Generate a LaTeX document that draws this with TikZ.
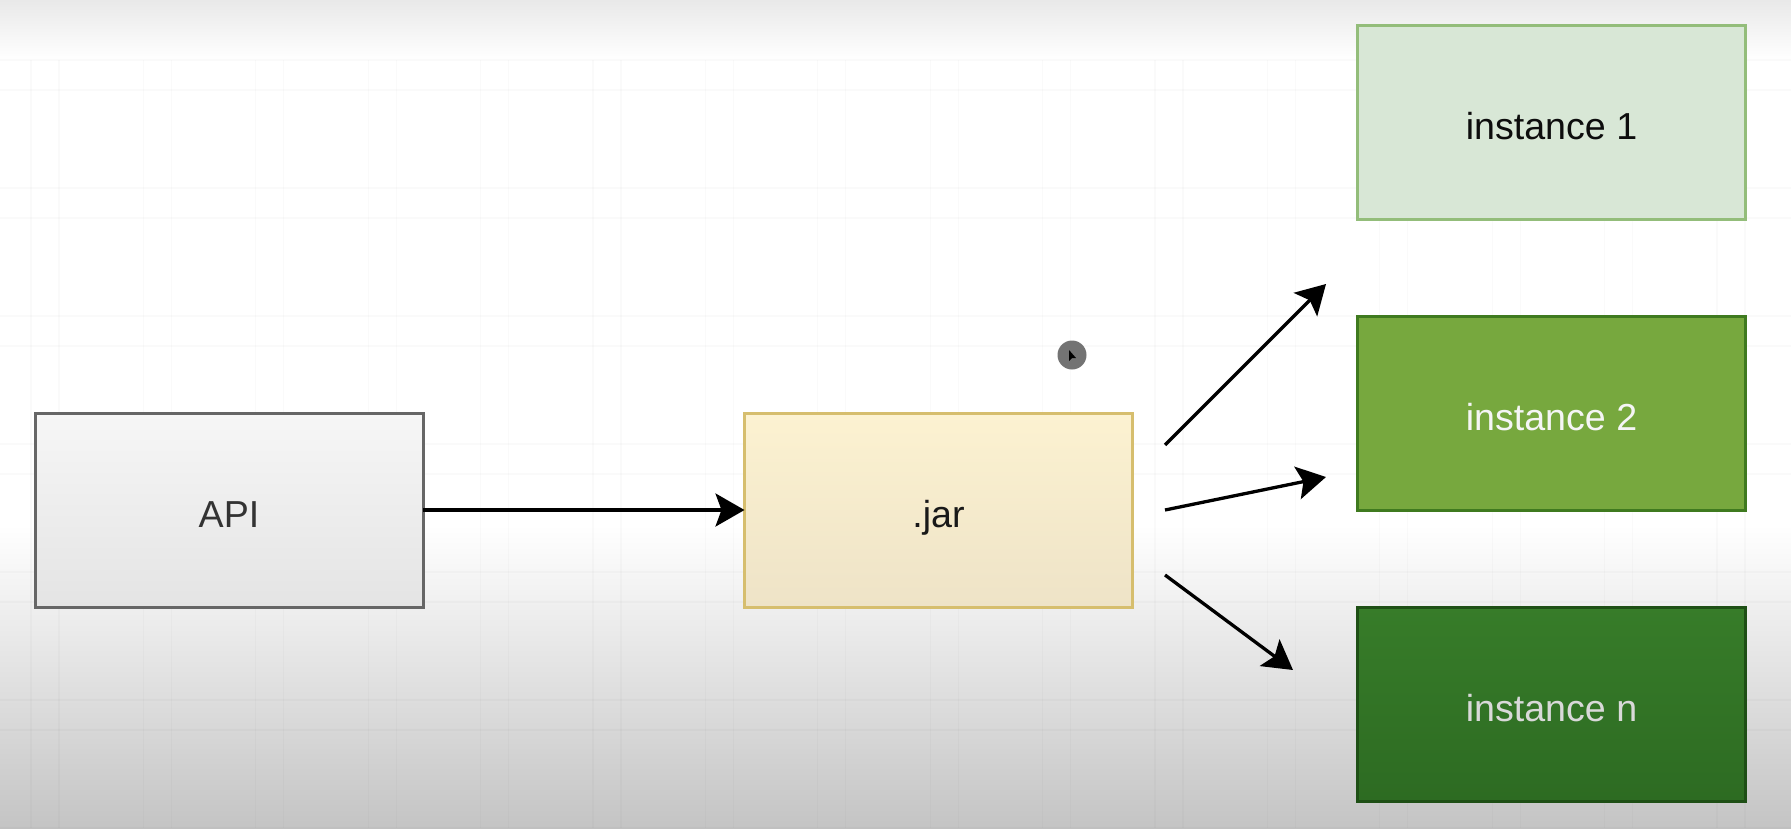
\documentclass[tikz,border=0pt]{standalone}
\usepackage{fontspec}
\setmainfont{Liberation Sans}
\usetikzlibrary{arrows.meta,shadings}
\definecolor{apiS}{HTML}{666666}
\definecolor{apiT}{HTML}{F6F6F6}
\definecolor{apiB}{HTML}{E4E4E4}
\definecolor{jarS}{HTML}{D6BE6E}
\definecolor{jarT}{HTML}{FCF2D1}
\definecolor{jarB}{HTML}{EEE3C7}
\definecolor{i1F}{HTML}{D8E7D6}
\definecolor{i1S}{HTML}{93BD7A}
\definecolor{i2F}{HTML}{77A83E}
\definecolor{i2S}{HTML}{3F7A1F}
\definecolor{inT}{HTML}{377C29}
\definecolor{inB}{HTML}{2D6B22}
\definecolor{inS}{HTML}{1E4F15}
\definecolor{bgB}{HTML}{C4C4C4}
\definecolor{bgT}{HTML}{E9E9E9}
\tikzset{
  boxnode/.style={rectangle, minimum width=388pt, minimum height=194pt, inner sep=0pt, outer sep=0pt, line width=3pt, text height=34pt, text depth=0pt, font=\fontsize{37.6}{40}\selectfont},
  conn/.style={line width=3.3pt, -{Stealth[length=29pt,width=33pt,inset=6pt]}},
  gridln/.style={black, opacity=0.018, line width=1.2pt},
}
\begin{document}
\begin{tikzpicture}[x=1pt,y=-1pt]
\useasboundingbox (0,0) rectangle (1791,828);
% background
\fill[white] (0,0) rectangle (1791,828);
\shade[top color=bgT, bottom color=white] (0,0) rectangle (1791,60);
\shade[top color=white, bottom color=bgB] (0,525) rectangle (1791,828);
% faint grid
\foreach \gx in {31,143.4,...,1791} {\draw[gridln] (\gx,60) -- (\gx,828); \draw[gridln] (\gx+28,60) -- (\gx+28,828);}
\foreach \gy in {60,188,...,828} {\draw[gridln] (0,\gy) -- (1791,\gy); \draw[gridln] (0,\gy+30) -- (1791,\gy+30);}
% nodes
\node[boxnode, draw=apiS, top color=apiT, bottom color=apiB, text=black!80] (api) at (229,510) {API};
\node[boxnode, draw=jarS, top color=jarT, bottom color=jarB, text=black!90] (jar) at (938.5,510) {.jar};
\node[boxnode, draw=i1S, fill=i1F, text=black!95] (i1) at (1551.5,122.5) {instance 1};
\node[boxnode, draw=i2S, fill=i2F, text=white!96!black] (i2) at (1551.5,413.5) {instance 2};
\node[boxnode, draw=inS, top color=inT, bottom color=inB, text=white!85!black] (in) at (1551.5,704) {instance n};
% connector ends
\coordinate (s1) at (1165,445);
\coordinate (e1) at (1326,284);
\coordinate (s2) at (1165,510);
\coordinate (e2) at (1326,477);
\coordinate (s3) at (1165,575);
\coordinate (e3) at (1293,670);
% connectors
\draw[conn] (api.east) -- (jar.west);
\draw[conn] (s1) -- (e1);
\draw[conn] (s2) -- (e2);
\draw[conn] (s3) -- (e3);
% cursor
\node[circle, fill=black!55, minimum size=29pt, inner sep=0pt] (cur) at (1072,355) {};
\fill[black] (cur.center) ++(-3,-5) -- ++(0,11) -- ++(3,-3) -- ++(4,0) -- cycle;
\end{tikzpicture}
\end{document}
